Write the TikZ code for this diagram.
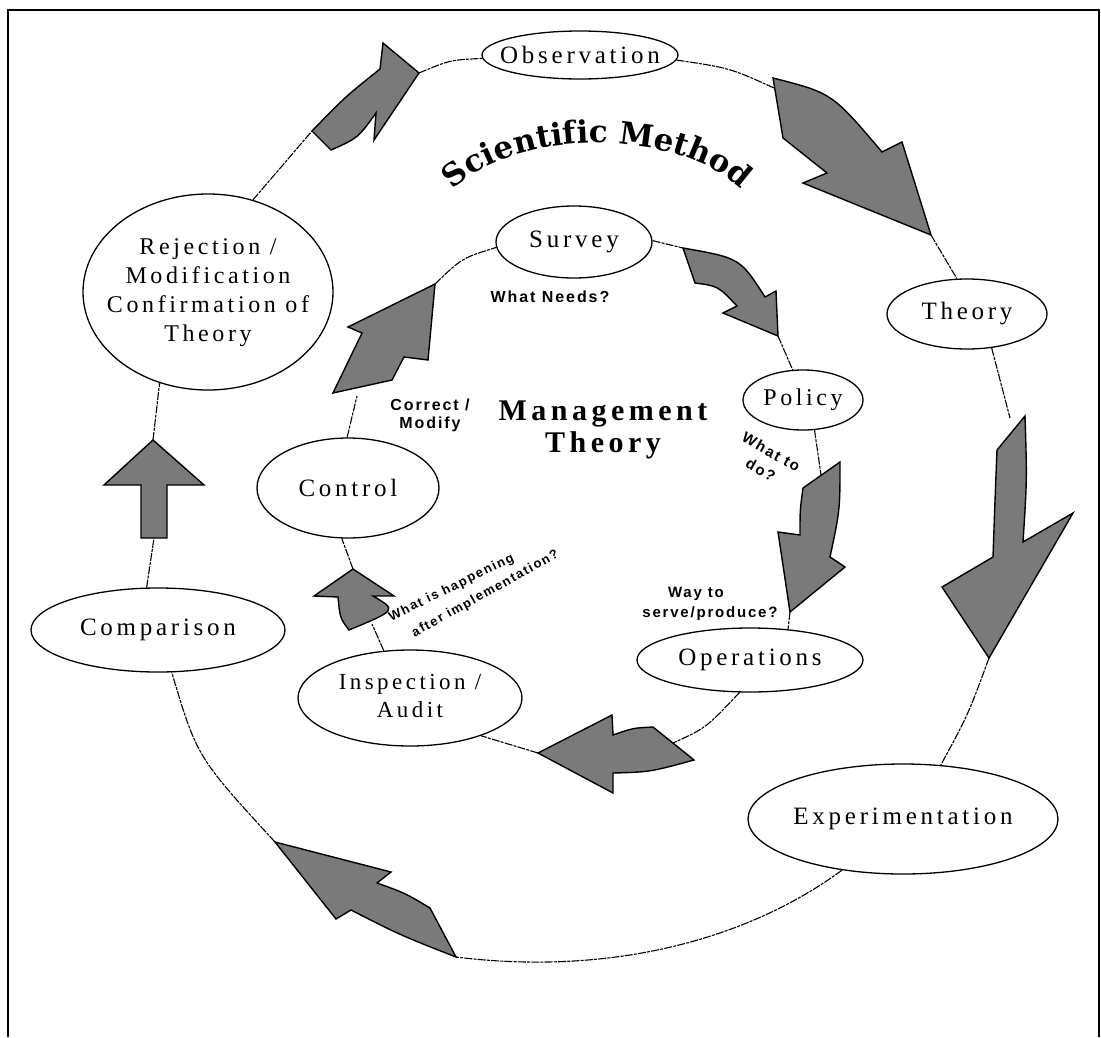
\documentclass[tikz,border=0pt]{standalone}
\usepackage{fontspec}
\setmainfont{Liberation Serif}
\newfontfamily\nodefont[LetterSpace=15,Ligatures=CommonOff]{Liberation Serif}
\newfontfamily\tagfont[LetterSpace=12]{Liberation Sans}
\newfontfamily\arcfont{DejaVu Serif}
\usetikzlibrary{shapes.geometric,decorations.text}

\tikzset{
  oval/.style={ellipse, draw=black, line width=1.3pt, fill=white, inner sep=0pt,
               font=\nodefont\fontsize{25}{29}\selectfont},
  link/.style={draw=black, line width=1.1pt,
               dash pattern=on 8pt off 1.2pt on 3pt off 1.2pt},
  blockarrow/.style={draw=black, line width=1.4pt, fill=black!52, line join=miter},
  qtext/.style 2 args={inner sep=0pt, align=center,
               font=\tagfont\bfseries\fontsize{#1}{#2}\selectfont},
}

\begin{document}
\begin{tikzpicture}[x=1pt,y=-1pt]
\useasboundingbox (0,0) rectangle (1101,1037);

% frame
\draw[line width=2pt] (8,1037) -- (8,10) -- (1099,10) -- (1099,1037);

% ---------- outer cycle: scientific method ----------
\node[oval, minimum width=196pt, minimum height=48pt] (obs) at (580,55) {\makebox[0pt]{Observation}};
\node[oval, minimum width=160pt, minimum height=70pt] (theo) at (967,314) {\makebox[0pt]{Theory}};
\node[oval, minimum width=310pt, minimum height=110pt] (exp) at (903,819) {\makebox[0pt]{Experimentation}};
\node[oval, minimum width=254pt, minimum height=84pt] (comp) at (158,630) {\makebox[0pt]{Comparison}};
\node[oval, minimum width=250pt, minimum height=196pt, font=\nodefont\fontsize{24}{29}\selectfont] (rej) at (208,292)
  {\makebox[0pt]{\begin{tabular}{@{}c@{}}Rejection /\\Modification\\Confirmation of\\Theory\end{tabular}}};

% ---------- inner cycle: management theory ----------
\node[oval, minimum width=156pt, minimum height=72pt] (surv) at (574,242) {\makebox[0pt]{Survey}};
\node[oval, minimum width=120pt, minimum height=60pt, font=\nodefont\fontsize{24}{29}\selectfont] (pol) at (803,400) {\makebox[0pt]{Policy}};
\node[oval, minimum width=226pt, minimum height=64pt] (ops) at (750,660) {\makebox[0pt]{Operations}};
\node[oval, minimum width=224pt, minimum height=96pt, font=\nodefont\fontsize{23}{28}\selectfont] (insp) at (410,698)
  {\makebox[0pt]{\begin{tabular}{@{}c@{}}Inspection /\\Audit\end{tabular}}};
\node[oval, minimum width=182pt, minimum height=100pt] (ctl) at (348,488) {\makebox[0pt]{Control}};

% ---------- arrow geometry ----------
% rejection -> observation
\coordinate (a5t1) at (312,131); \coordinate (a5n1) at (380,69); \coordinate (a5b1) at (383,43);
\coordinate (a5tip) at (419,73); \coordinate (a5b2) at (374,140); \coordinate (a5n2) at (376,113);
\coordinate (a5t2) at (331,150);
% observation -> theory
\coordinate (a1t1) at (773,78); \coordinate (a1n1) at (882,152); \coordinate (a1b1) at (902,142);
\coordinate (a1tip) at (931,235); \coordinate (a1b2) at (803,183); \coordinate (a1n2) at (827,173);
\coordinate (a1t2) at (783,138); \coordinate (a1in) at (774,88);
% theory -> experimentation
\coordinate (a2t1) at (1025,416); \coordinate (a2n1) at (1023,542); \coordinate (a2b1) at (1073,513);
\coordinate (a2tip) at (989,658); \coordinate (a2b2) at (942,587); \coordinate (a2n2) at (993,557);
\coordinate (a2t2) at (997,450); \coordinate (a2in) at (1010,418);
% experimentation -> comparison
\coordinate (a3tip) at (275,842); \coordinate (a3b1) at (391,872); \coordinate (a3n1) at (377,883);
\coordinate (a3t1) at (430,908); \coordinate (a3t2) at (456,957); \coordinate (a3n2) at (351,910);
\coordinate (a3b2) at (336,919);
% comparison -> rejection
\coordinate (a4tip) at (153,440); \coordinate (a4br) at (204,485); \coordinate (a4sr) at (167,485);
\coordinate (a4tr) at (167,538); \coordinate (a4tl) at (141,538); \coordinate (a4sl) at (141,485);
\coordinate (a4bl) at (104,485); \coordinate (a4bot) at (154,538);
% survey -> policy
\coordinate (a6t1) at (683,248); \coordinate (a6n1) at (765,297); \coordinate (a6b1) at (776,291);
\coordinate (a6tip) at (778,336); \coordinate (a6b2) at (723,313); \coordinate (a6n2) at (737,306);
\coordinate (a6t2) at (695,283);
% policy -> operations
\coordinate (a7t1) at (840,462); \coordinate (a7t2) at (803,488); \coordinate (a7n1) at (800,535);
\coordinate (a7b1) at (778,532); \coordinate (a7tip) at (790,612); \coordinate (a7b2) at (845,567);
\coordinate (a7n2) at (830,557); \coordinate (a7in) at (821,475);
% operations -> inspection
\coordinate (a8tip) at (538,753); \coordinate (a8b1) at (612,715); \coordinate (a8n1) at (613,735);
\coordinate (a8t1) at (653,727); \coordinate (a8t2) at (694,760); \coordinate (a8n2) at (613,773);
\coordinate (a8b2) at (613,793); \coordinate (a8in) at (673,743);
% inspection -> control
\coordinate (a9tip) at (353,569); \coordinate (a9br) at (394,596); \coordinate (a9nr) at (373,596);
\coordinate (a9bot) at (349,630); \coordinate (a9nl) at (338,597); \coordinate (a9bl) at (314,596);
\coordinate (a9in) at (372,624);
% control -> survey
\coordinate (a10tip) at (435,284); \coordinate (a10br) at (428,360); \coordinate (a10nr) at (404,357);
\coordinate (a10tr) at (392,380); \coordinate (a10tl) at (333,393); \coordinate (a10nl) at (362,333);
\coordinate (a10bl) at (348,327); \coordinate (a10in) at (357,396);

% ---------- thin connectors ----------
\draw[link] (a5tip) .. controls (450,60) .. (obs.182);
\draw[link] (obs.-3) .. controls (730,68) .. (a1in);
\draw[link] (a1tip) -- (theo.106);
\draw[link] (theo.-54) -- (a2in);
\draw[link] (a2tip) .. controls (968,715) .. (exp.55);
\draw[link] (exp.-140) .. controls (740,945) and (600,975) .. (a3t2);
\draw[link] (a3tip) .. controls (197,757) .. (comp.-72);
\draw[link] (comp.105) -- (a4bot);
\draw[link] (a4tip) -- (rej.-118);
\draw[link] (rej.64) -- (a5t1);

\draw[link] (a10tip) .. controls (462,258) .. (surv.184);
\draw[link] (surv.1) -- (a6t1);
\draw[link] (a6tip) -- (pol.109);
\draw[link] (pol.-69) -- (a7in);
\draw[link] (a7tip) -- (ops.39);
\draw[link] (ops.-108) .. controls (706,728) .. (a8in);
\draw[link] (a8tip) -- (insp.-28);
\draw[link] (insp.119) -- (a9in);
\draw[link] (a9tip) -- (ctl.-97);
\draw[link] (ctl.91) -- (a10in);

% ---------- block arrows ----------
\draw[blockarrow] (a5t1) .. controls (345,97) .. (a5n1) -- (a5b1) -- (a5tip) -- (a5b2) -- (a5n2)
  .. controls (358,138) .. (a5t2) -- cycle;
\draw[blockarrow] (a1t1) .. controls (832,93) .. (a1n1) -- (a1b1) -- (a1tip) -- (a1b2) -- (a1n2)
  .. controls (805,155) .. (a1t2) -- cycle;
\draw[blockarrow] (a2t1) .. controls (1027,480) .. (a2n1) -- (a2b1) -- (a2tip) -- (a2b2) -- (a2n2)
  .. controls (995,500) .. (a2t2) -- cycle;
\draw[blockarrow] (a3tip) -- (a3b1) -- (a3n1) .. controls (405,893) .. (a3t1) -- (a3t2)
  .. controls (400,935) .. (a3n2) -- (a3b2) -- cycle;
\draw[blockarrow] (a4tip) -- (a4br) -- (a4sr) -- (a4tr) -- (a4tl) -- (a4sl) -- (a4bl) -- cycle;

\draw[blockarrow] (a6t1) .. controls (740,258) .. (a6n1) -- (a6b1) -- (a6tip) -- (a6b2) -- (a6n2)
  .. controls (718,286) .. (a6t2) -- cycle;
\draw[blockarrow] (a7t2) .. controls (800,510) .. (a7n1) -- (a7b1) -- (a7tip) -- (a7b2) -- (a7n2)
  .. controls (840,510) .. (a7t1) -- cycle;
\draw[blockarrow] (a8tip) -- (a8b1) -- (a8n1) .. controls (633,728) .. (a8t1) -- (a8t2)
  .. controls (650,772) .. (a8n2) -- (a8b2) -- cycle;
\draw[blockarrow] (a9tip) -- (a9br) -- (a9nr) .. controls (397,610) .. (a9bot)
  .. controls (340,618) .. (a9nl) -- (a9bl) -- cycle;
\draw[blockarrow] (a10tip) -- (a10br) -- (a10nr) -- (a10tr) -- (a10tl) -- (a10nl) -- (a10bl) -- cycle;

% ---------- titles ----------
% arched title along an elliptical arc
\path[decorate, decoration={text along path, text align=center,
  text={|\arcfont\bfseries\fontsize{31}{33}\selectfont|Scientific Method}}]
  (597,233) ++(-155:164 and 90) arc[start angle=-155, end angle=-25, x radius=164, y radius=90];

\node[inner sep=0pt, align=center, font=\nodefont\bfseries\fontsize{30}{32}\selectfont] (mgmt) at (603,430)
  {Management\\Theory};

% ---------- questions ----------
\node[qtext={16}{18}, anchor=base] (qneeds) at (550,302) {What Needs?};
\node[qtext={16}{18}] (qcorr) at (430,415) {Correct /\\Modify};
\node[qtext={15}{21}, rotate=-30] (qwhat) at (766,461) {What to\\do?};
\node[qtext={15}{20}] (qway) at (710,604) {Way to\hspace*{28pt}\\serve/produce?};
\node[qtext={13}{18}, anchor=base, rotate=26] (qhap) at (453,591) {What is happening};
\node[qtext={13}{18}, anchor=base, rotate=29] (qimpl) at (487,597) {after implementation?};

\end{tikzpicture}
\end{document}
